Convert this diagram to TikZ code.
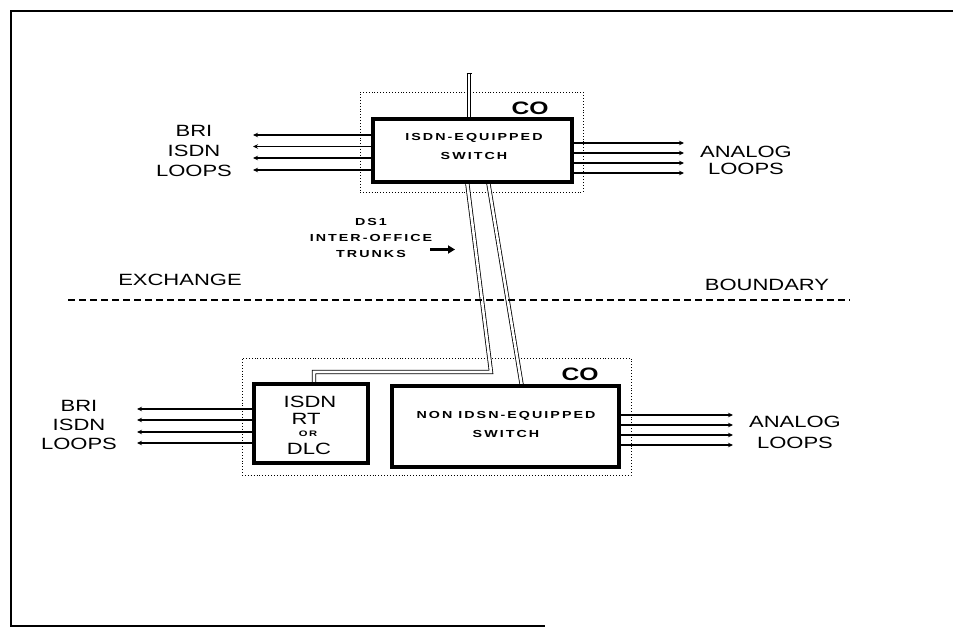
\documentclass[tikz,border=0pt]{standalone}
\usepackage{fontspec}
\usetikzlibrary{arrows.meta}
\setmainfont{Liberation Sans}
\newfontfamily\lblfont[FakeStretch=1.35]{Liberation Sans}
\newfontfamily\boxfont[FakeStretch=1.4,LetterSpace=20]{Liberation Sans}
\newfontfamily\cofont[FakeStretch=1.37]{Liberation Sans}
\tikzset{
  lbl/.style={font=\lblfont\fontsize{16.3}{20}\selectfont, align=center, inner sep=0pt},
  btxt/.style={font=\boxfont\bfseries\fontsize{10.2}{19}\selectfont, align=center, inner sep=0pt},
  cotxt/.style={font=\cofont\bfseries\fontsize{18}{20}\selectfont, inner sep=0pt},
  swbox/.style={draw, line width=3.2pt, fill=white, rectangle, inner sep=0pt},
  cobox/.style={draw, dotted, line width=0.9pt, rectangle, inner sep=0pt},
  loopline/.style={line width=1.7pt, -{Stealth[length=5pt,width=4.5pt]}},
  trunk/.style={double, double distance=2.6pt, line width=0.8pt},
  frameline/.style={line width=1.6pt}
}
\begin{document}
\begin{tikzpicture}[x=1pt,y=-1pt]
\useasboundingbox (0,0) rectangle (953,631);
% frame
\coordinate (ftr) at (953,11);
\coordinate (ftl) at (11,11);
\coordinate (fbl) at (11,626);
\coordinate (fbr) at (545,626);
\draw[frameline] (ftr) -- (ftl) -- (fbl) -- (fbr);

% CO dotted boxes
\node[cobox, minimum width=223pt, minimum height=100pt] (co1) at (471.5,142) {};
\node[cobox, minimum width=389pt, minimum height=117pt] (co2) at (436.5,416.5) {};

% trunk coordinates
\coordinate (ttop) at (469,73);
\coordinate (ta1) at (467,181);
\coordinate (ta2) at (491,372);
\coordinate (ta3) at (314,372);
\coordinate (ta4) at (314,385);
\coordinate (tb1) at (488,181);
\coordinate (tb2) at (522,387);
\draw[trunk] (ttop) -- (469,121);
\draw[line width=0.8pt] (466.5,73) -- (471.5,73);
\draw[trunk] (ta1) -- (ta2) -- (ta3) -- (ta4);
\draw[trunk] (tb1) -- (tb2);

% switch boxes
\node[swbox, minimum width=199pt, minimum height=63pt] (sw1) at (472.5,150.5) {};
\node[swbox, minimum width=114pt, minimum height=79pt] (rt) at (311,423.5) {};
\node[swbox, minimum width=227pt, minimum height=81pt] (sw2) at (505.5,426.5) {};

% texts in boxes
\node[btxt] (sw1t) at (474,146.5) {ISDN-EQUIPPED\\SWITCH};
\node[btxt] (sw2t) at (506,424.5) {NON IDSN-EQUIPPED\\SWITCH};
\node[lbl] (rt1) at (310,402) {ISDN};
\node[lbl] (rt2) at (306,419) {RT};
\node[btxt, font=\boxfont\bfseries\fontsize{8}{10}\selectfont] (rt3) at (308,434) {OR};
\node[lbl] (rt4) at (309,449) {DLC};
\node[cotxt] (co1t) at (530,108) {CO};
\node[cotxt] (co2t) at (580,374) {CO};

% top left loops
\foreach \i/\yy in {1/135,2/146.5,3/158,4/170}{
  \coordinate (tl\i) at (253,\yy);
  \draw[loopline] (sw1.west |- tl\i) -- (tl\i);
}
% top right loops
\foreach \i/\yy in {1/143,2/153,3/163,4/173}{
  \coordinate (tr\i) at (684,\yy);
  \draw[loopline] (sw1.east |- tr\i) -- (tr\i);
}
% bottom left loops
\foreach \i/\yy in {1/409,2/420,3/432,4/443}{
  \coordinate (bl\i) at (137,\yy);
  \draw[loopline] (rt.west |- bl\i) -- (bl\i);
}
% bottom right loops
\foreach \i/\yy in {1/415,2/425,3/435,4/445}{
  \coordinate (br\i) at (733,\yy);
  \draw[loopline] (sw2.east |- br\i) -- (br\i);
}

% labels
\node[lbl] (lblTL) at (194,151) {BRI\\ISDN\\LOOPS};
\node[lbl, font=\lblfont\fontsize{16.3}{17}\selectfont] (lblTR) at (746,160) {ANALOG\\LOOPS};
\node[lbl, font=\lblfont\fontsize{16.3}{19}\selectfont] (lblBL) at (79,425) {BRI\\ISDN\\LOOPS};
\node[lbl, font=\lblfont\fontsize{16.3}{21}\selectfont] (lblBR) at (795,432) {ANALOG\\LOOPS};
\node[lbl] (exch) at (180,280) {EXCHANGE};
\node[lbl] (bound) at (767,285) {BOUNDARY};

% DS1 label and arrow
\node[btxt, font=\boxfont\bfseries\fontsize{10.2}{16}\selectfont] (ds1) at (371,238) {DS1\\INTER-OFFICE\\TRUNKS};
\coordinate (arA) at (430,249.5);
\coordinate (arB) at (455,249.5);
\draw[line width=2.4pt, -{Triangle[length=7pt,width=8pt]}] (arA) -- (arB);

% boundary line
\coordinate (bdL) at (68,300);
\coordinate (bdR) at (850,300);
\draw[dashed, line width=1.1pt, dash pattern=on 7pt off 4pt] (bdL) -- (bdR);
\end{tikzpicture}
\end{document}
